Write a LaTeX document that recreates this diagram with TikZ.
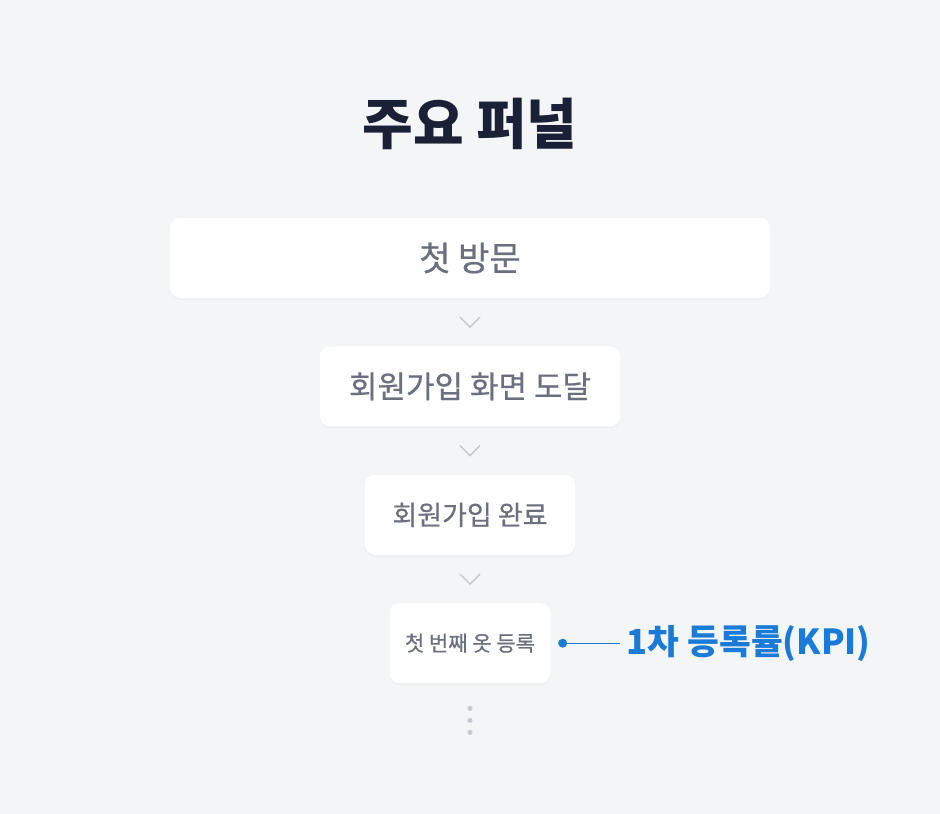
\documentclass[tikz,border=0pt]{standalone}
\usepackage{fontspec}
\setmainfont{Noto Sans CJK KR}
\newfontfamily\medfont[FakeBold=0.6]{Noto Sans CJK KR}
\usetikzlibrary{positioning,calc,shadows}
\definecolor{bg}{HTML}{F4F5F7}
\definecolor{titlecol}{HTML}{1A2035}
\definecolor{boxtext}{HTML}{6B6F7E}
\definecolor{chevgray}{HTML}{C3C7CE}
\definecolor{kpiblue}{HTML}{1A7AD8}
\tikzset{block/.style={fill=white,rounded corners=10pt,minimum height=80pt,text=boxtext,align=center,
           drop shadow={shadow xshift=0pt,shadow yshift=-2pt,opacity=0.05}},
         chev/.style={draw=chevgray,line width=1.4pt},
         line/.style={draw=kpiblue,line width=1.2pt}
}

\begin{document}
\begin{tikzpicture}[x=1pt,y=-1pt,node distance=48pt]
  \fill[bg] (0,0) rectangle (940,814);
  \useasboundingbox (0,0) rectangle (940,814);
  \node[text=titlecol,font=\fontsize{55pt}{60pt}\selectfont\bfseries] (t) at (470,124) {주요 퍼널};
  \node[block, minimum width=600pt, font=\medfont\fontsize{34pt}{40pt}\selectfont] (a) at (470,258) {첫 방문};
  \node[block, minimum width=300pt, font=\medfont\fontsize{31pt}{36pt}\selectfont, below=of a] (b) {회원가입 화면 도달};
  \node[block, minimum width=210pt, font=\medfont\fontsize{27pt}{32pt}\selectfont, below=of b] (c) {회원가입 완료};
  \node[block, minimum width=161pt, font=\medfont\fontsize{21pt}{26pt}\selectfont, below=of c] (d) {첫 번째 옷 등록};
  % chevrons between steps
  \draw[chev] ($(a.south)!0.5!(b.north)$) +(-10,-5) -- +(0,5) -- +(10,-5);
  \draw[chev] ($(b.south)!0.5!(c.north)$) +(-10,-5) -- +(0,5) -- +(10,-5);
  \draw[chev] ($(c.south)!0.5!(d.north)$) +(-10,-5) -- +(0,5) -- +(10,-5);
  \foreach \dy in {25,37,49}
    \fill[chevgray] ($(d.south)+(0,\dy)$) circle (2.5pt);
  % KPI label
  \coordinate[right=12pt of d] (dot);
  \node[text=kpiblue,inner xsep=7pt,inner ysep=0pt,font=\fontsize{34.5pt}{40pt}\selectfont\bfseries, right=57pt of dot] (k) {1차 등록률(KPI)};
  \fill[kpiblue] (dot) circle (4.5pt);
  \draw[line] (dot) -- (k.west);
\end{tikzpicture}
\end{document}
